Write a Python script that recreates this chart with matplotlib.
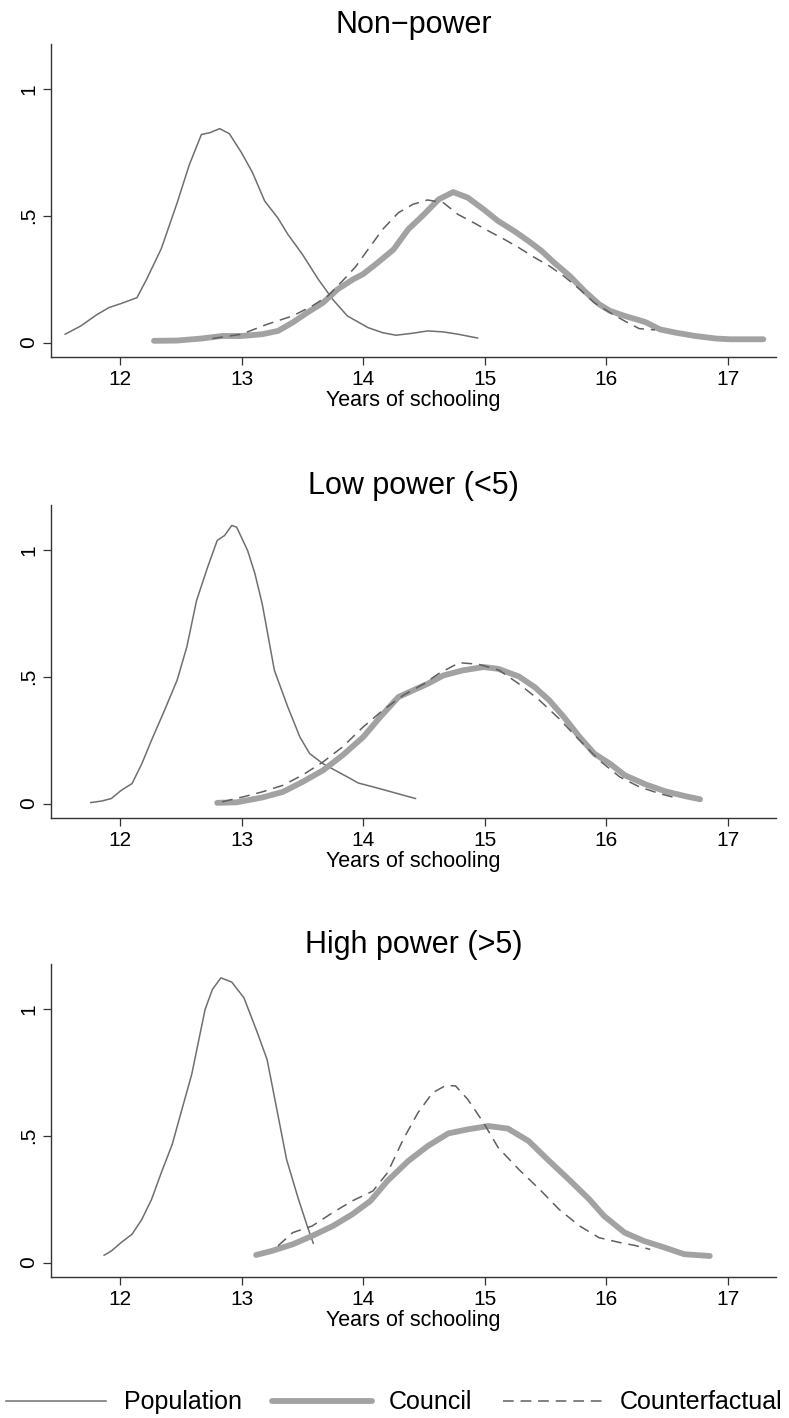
import matplotlib
matplotlib.use("Agg")
import matplotlib.pyplot as plt

plt.rcParams['font.family'] = ['Liberation Sans', 'DejaVu Sans']

titles = ["Non\u2212power", "Low power (<5)", "High power (>5)"]
xlabel = "Years of schooling"
series_names = ["Population", "Council", "Counterfactual"]

# panel 1 : non-power
pop1_x = [11.55, 11.68, 11.81, 11.91, 12.01, 12.14, 12.22, 12.34, 12.47, 12.57, 12.67, 12.74, 12.82, 12.90,
          13.00, 13.09, 13.19, 13.30, 13.38, 13.50, 13.63, 13.75, 13.87, 14.04, 14.16, 14.27, 14.41, 14.53,
          14.66, 14.78, 14.94]
pop1_y = [0.033, 0.066, 0.11, 0.138, 0.154, 0.177, 0.25, 0.37, 0.55, 0.70, 0.82, 0.827, 0.843, 0.823,
          0.748, 0.67, 0.558, 0.49, 0.427, 0.348, 0.25, 0.17, 0.105, 0.059, 0.039, 0.029, 0.037, 0.046,
          0.042, 0.033, 0.018]
cou1_x = [12.28, 12.47, 12.67, 12.84, 13.00, 13.17, 13.30, 13.42, 13.54, 13.67, 13.79, 13.92, 14.00, 14.12,
          14.25, 14.37, 14.50, 14.62, 14.74, 14.86, 14.99, 15.11, 15.24, 15.36, 15.47, 15.57, 15.70, 15.82,
          15.94, 16.03, 16.15, 16.32, 16.44, 16.57, 16.73, 16.90, 17.02, 17.29]
cou1_y = [0.007, 0.008, 0.016, 0.026, 0.026, 0.033, 0.046, 0.079, 0.118, 0.157, 0.21, 0.25, 0.27, 0.315,
          0.367, 0.446, 0.505, 0.564, 0.593, 0.571, 0.525, 0.479, 0.44, 0.40, 0.36, 0.315, 0.262, 0.203,
          0.151, 0.125, 0.105, 0.081, 0.052, 0.039, 0.026, 0.016, 0.013, 0.013]
cf1_x = [12.76, 13.00, 13.21, 13.42, 13.58, 13.71, 13.83, 13.94, 14.04, 14.16, 14.29, 14.41, 14.53, 14.66,
         14.78, 14.91, 15.03, 15.16, 15.28, 15.41, 15.53, 15.65, 15.78, 15.90, 16.03, 16.15, 16.27, 16.40]
cf1_y = [0.016, 0.033, 0.072, 0.105, 0.144, 0.184, 0.243, 0.30, 0.367, 0.446, 0.512, 0.545, 0.562, 0.551,
         0.505, 0.472, 0.44, 0.407, 0.374, 0.335, 0.302, 0.262, 0.21, 0.157, 0.118, 0.085, 0.055, 0.05]

# panel 2 : low power
pop2_x = [11.76, 11.85, 11.93, 12.01, 12.10, 12.18, 12.26, 12.36, 12.47, 12.55, 12.63, 12.72, 12.80, 12.86,
          12.92, 12.96, 13.05, 13.11, 13.17, 13.27, 13.38, 13.48, 13.56, 13.67, 13.77, 13.87, 13.96, 14.08,
          14.21, 14.33, 14.43]
pop2_y = [0.004, 0.01, 0.02, 0.052, 0.079, 0.157, 0.25, 0.36, 0.486, 0.617, 0.80, 0.93, 1.037, 1.056,
          1.096, 1.089, 0.997, 0.906, 0.787, 0.525, 0.381, 0.262, 0.197, 0.157, 0.131, 0.105, 0.081, 0.066,
          0.049, 0.033, 0.02]
cou2_x = [12.80, 12.96, 13.17, 13.34, 13.50, 13.67, 13.83, 14.00, 14.14, 14.29, 14.41, 14.53, 14.66, 14.82,
          14.99, 15.11, 15.28, 15.41, 15.53, 15.65, 15.78, 15.90, 16.03, 16.15, 16.32, 16.48, 16.65, 16.77]
cou2_y = [0.003, 0.005, 0.024, 0.046, 0.085, 0.131, 0.19, 0.262, 0.341, 0.42, 0.446, 0.472, 0.505, 0.525,
          0.538, 0.531, 0.501, 0.459, 0.407, 0.341, 0.262, 0.197, 0.157, 0.112, 0.076, 0.049, 0.029, 0.017]
cf2_x = [12.84, 13.01, 13.17, 13.34, 13.50, 13.67, 13.83, 14.00, 14.16, 14.33, 14.50, 14.62, 14.79, 14.95,
         15.12, 15.28, 15.45, 15.61, 15.78, 15.94, 16.11, 16.27, 16.44, 16.56]
cf2_y = [0.007, 0.026, 0.046, 0.072, 0.112, 0.164, 0.223, 0.302, 0.367, 0.427, 0.472, 0.512, 0.555, 0.549,
         0.525, 0.472, 0.407, 0.335, 0.249, 0.171, 0.105, 0.066, 0.039, 0.024]

# panel 3 : high power
pop3_x = [11.87, 11.93, 12.01, 12.10, 12.18, 12.26, 12.34, 12.43, 12.51, 12.59, 12.70, 12.76, 12.83, 12.92,
          13.02, 13.13, 13.21, 13.29, 13.37, 13.46, 13.54, 13.59]
pop3_y = [0.029, 0.046, 0.079, 0.112, 0.17, 0.249, 0.354, 0.466, 0.604, 0.741, 0.997, 1.076, 1.122, 1.105,
          1.043, 0.906, 0.80, 0.604, 0.407, 0.262, 0.144, 0.076]
cou3_x = [13.12, 13.25, 13.42, 13.58, 13.75, 13.91, 14.06, 14.20, 14.37, 14.53, 14.70, 14.86, 15.03, 15.19,
          15.36, 15.53, 15.69, 15.86, 15.98, 16.15, 16.31, 16.48, 16.64, 16.85]
cou3_y = [0.03, 0.046, 0.072, 0.105, 0.144, 0.19, 0.243, 0.322, 0.40, 0.459, 0.509, 0.525, 0.538, 0.528,
          0.479, 0.40, 0.328, 0.249, 0.184, 0.118, 0.085, 0.059, 0.033, 0.026]
cf3_x = [13.30, 13.42, 13.58, 13.75, 13.91, 14.08, 14.20, 14.33, 14.45, 14.57, 14.68, 14.76, 14.86, 14.99,
         15.11, 15.28, 15.45, 15.61, 15.78, 15.94, 16.11, 16.23, 16.36]
cf3_y = [0.066, 0.118, 0.144, 0.197, 0.243, 0.282, 0.354, 0.486, 0.59, 0.669, 0.698, 0.696, 0.643, 0.551,
         0.453, 0.367, 0.289, 0.21, 0.144, 0.098, 0.079, 0.068, 0.052]

panels = [
    (pop1_x, pop1_y, cou1_x, cou1_y, cf1_x, cf1_y),
    (pop2_x, pop2_y, cou2_x, cou2_y, cf2_x, cf2_y),
    (pop3_x, pop3_y, cou3_x, cou3_y, cf3_x, cf3_y),
]

fig = plt.figure(figsize=(7.89, 14.18), dpi=100)
bottoms = [0.7482, 0.4231, 0.0994]

for i, (px, py, cx, cy, fx, fy) in enumerate(panels):
    ax = fig.add_axes([0.0646, bottoms[i], 0.919, 0.2205])
    l1, = ax.plot(px, py, color='#6f6f6f', lw=1.1)
    l2, = ax.plot(cx, cy, color='#a2a2a2', lw=4.2, solid_capstyle='round')
    l3, = ax.plot(fx, fy, color='#5f5f5f', lw=1.1, dashes=(7, 4.5))
    ax.set_xlim(11.433, 17.395)
    ax.set_ylim(-0.057, 1.175)
    ax.set_xticks([12, 13, 14, 15, 16, 17])
    ax.set_yticks([0, 0.5, 1])
    ax.set_yticklabels(['0', '.5', '1'], rotation=90, va='center')
    for s in ['top', 'right']:
        ax.spines[s].set_visible(False)
    for s in ['left', 'bottom']:
        ax.spines[s].set_color('#333333')
        ax.spines[s].set_linewidth(1.0)
    ax.tick_params(direction='out', length=6, width=0.9, color='#333333', labelsize=15, pad=3)
    ax.set_xlabel(xlabel, fontsize=15.5, labelpad=1)
    ax.set_title(titles[i], fontsize=22, pad=8)

fig.legend([l1, l2, l3], series_names, loc='lower center', bbox_to_anchor=(0.5, 0.0),
           ncol=3, frameon=False, fontsize=18, handlelength=4.0, columnspacing=1.2,
           handletextpad=0.7, borderpad=0.15, borderaxespad=0)

fig.savefig('out.png', dpi=100)
